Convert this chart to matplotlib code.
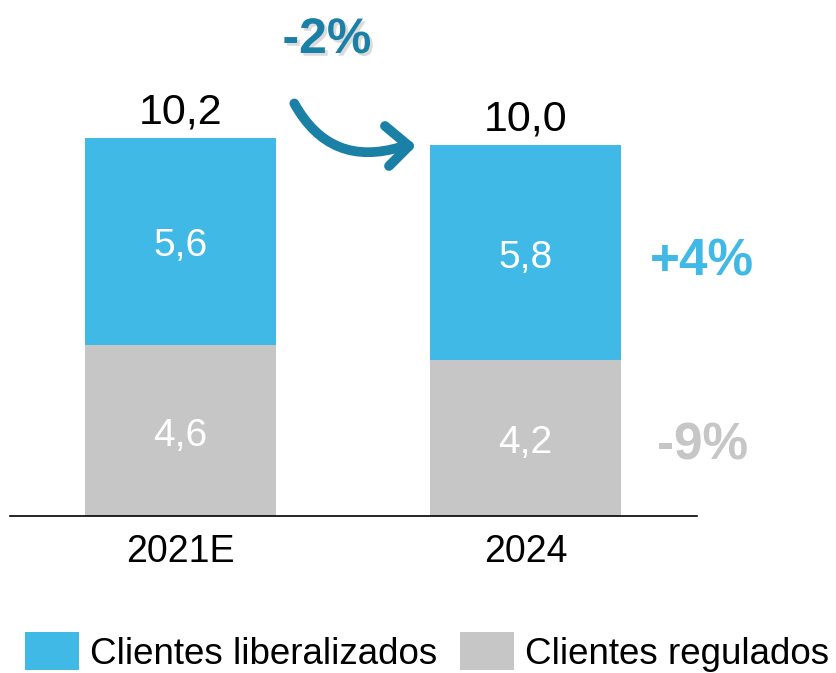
import matplotlib
matplotlib.use("Agg")
import matplotlib.pyplot as plt
from matplotlib.patches import FancyArrowPatch
from matplotlib.lines import Line2D
import matplotlib.patheffects as pe

plt.rcParams["font.family"] = ["Liberation Sans", "DejaVu Sans"]

categories = ["2021E", "2024"]
regulados = [4.6, 4.2]
liberalizados = [5.6, 5.8]
series_names = ["Clientes liberalizados", "Clientes regulados"]
change_total = "-2%"
change_liberalizados = "+4%"
change_regulados = "-9%"

BLUE = "#41B9E6"
GRAY = "#C6C6C6"
DARK_BLUE = "#1A80A6"

W, H = 836, 673
fig = plt.figure(figsize=(W / 100, H / 100), dpi=100)


def fx(px):
    return px / W


def fy(py):
    return 1 - py / H


# axes spans from the baseline up to the top of the figure
ax_left, ax_right, ax_bottom = 10, 697, 516
ax = fig.add_axes([fx(ax_left), fy(ax_bottom), (ax_right - ax_left) / W, ax_bottom / H])

px_per_unit_x = 345.0
cx0 = 180.5
ax.set_xlim(-(cx0 - ax_left) / px_per_unit_x, 1 + (ax_right - cx0 - px_per_unit_x) / px_per_unit_x)
px_per_unit_y = 37.1
ax.set_ylim(0, ax_bottom / px_per_unit_y)

x = list(range(len(categories)))
bw = 191 / px_per_unit_x
totals = [r + l for r, l in zip(regulados, liberalizados)]

b_reg = ax.bar(x, regulados, width=bw, color=GRAY, label=series_names[1])
b_lib = ax.bar(x, liberalizados, width=bw, bottom=regulados, color=BLUE, label=series_names[0])


def fmt(v):
    return f"{v:.1f}".replace(".", ",")


dy = 5 / px_per_unit_y
for i in x:
    ax.text(i, regulados[i] / 2 - dy, fmt(regulados[i]), ha="center", va="center",
            color="white", fontsize=28)
    ax.text(i, regulados[i] + liberalizados[i] / 2 - dy, fmt(liberalizados[i]), ha="center",
            va="center", color="white", fontsize=28)
    ax.annotate(fmt(totals[i]), (i, totals[i]), xytext=(0, 4), textcoords="offset points",
                ha="center", va="bottom", fontsize=31, color="black")

ax.set_xticks(x)
ax.set_xticklabels(categories, fontsize=27)
ax.tick_params(axis="x", length=0, pad=13)
ax.set_yticks([])
for s in ["top", "right", "left"]:
    ax.spines[s].set_visible(False)
ax.spines["bottom"].set_linewidth(1.2)

# segment changes on the right
fig.text(fx(702), fy(262), change_liberalizados, ha="center", va="center", fontsize=37,
         fontweight="bold", color=BLUE)
fig.text(fx(703), fy(446), change_regulados, ha="center", va="center", fontsize=37,
         fontweight="bold", color=GRAY)

# total change with curved arrow
fig.text(fx(327), fy(40), change_total, ha="center", va="center", fontsize=36,
         fontweight="bold", color=DARK_BLUE,
         path_effects=[pe.SimplePatchShadow(offset=(2, -2), shadow_rgbFace="#999999", alpha=0.35),
                       pe.Normal()])

curve = FancyArrowPatch((fx(293), fy(101)), (fx(404), fy(146)),
                        transform=fig.transFigure, connectionstyle="arc3,rad=0.42",
                        arrowstyle="-", color=DARK_BLUE, linewidth=7, capstyle="round")
fig.patches.append(curve)
# open chevron head
tip = (fx(409), fy(146))
for end in [(fx(385), fy(126)), (fx(389), fy(166))]:
    fig.lines.append(Line2D([end[0], tip[0]], [end[1], tip[1]], transform=fig.transFigure,
                            color=DARK_BLUE, linewidth=7, solid_capstyle="round"))

fig.legend(handles=[b_lib, b_reg], labels=series_names, loc="center",
           bbox_to_anchor=(fx(427), fy(652)), ncol=2, frameon=False, fontsize=26.5,
           handlelength=1.47, handleheight=1.22, handletextpad=0.3, columnspacing=0.6,
           borderpad=0, borderaxespad=0)

fig.savefig("out.png", dpi=100, facecolor="white")
